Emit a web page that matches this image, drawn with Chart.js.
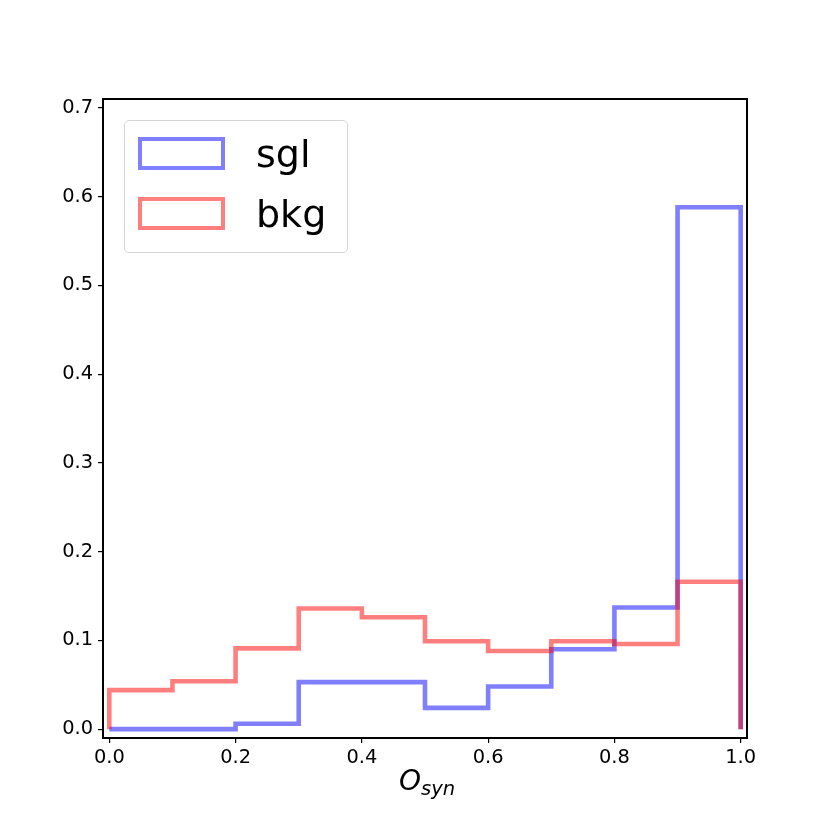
<!DOCTYPE html>
<html>
<head>
<meta charset="utf-8">
<script src="https://cdn.jsdelivr.net/npm/chart.js@4/dist/chart.umd.min.js"></script>
<style>
  html, body { margin: 0; padding: 0; background: #fff; }
  #wrap { position: relative; width: 830px; height: 830px; }
  canvas { position: absolute; left: 0; top: 0; }
  .ov { position: absolute; font-family: "DejaVu Sans", sans-serif; color: #000; white-space: nowrap; }
</style>
</head>
<body>
<div id="wrap">
  <canvas id="c" width="830" height="830"></canvas>
</div>
<script>
// ---- data ----
const binEdges = [0.0, 0.1, 0.2, 0.3, 0.4, 0.5, 0.6, 0.7, 0.8, 0.9, 1.0];
const sglValues = [0.000, 0.000, 0.006, 0.053, 0.053, 0.024, 0.048, 0.090, 0.137, 0.588];
const bkgValues = [0.044, 0.054, 0.091, 0.136, 0.126, 0.099, 0.088, 0.099, 0.096, 0.166];
const seriesLabels = ['sgl', 'bkg'];
const xTicks = [0.0, 0.2, 0.4, 0.6, 0.8, 1.0];
const yTicks = [0.0, 0.1, 0.2, 0.3, 0.4, 0.5, 0.6, 0.7];
const xLabelMain = 'O';
const xLabelSub = 'syn';

// closed step outline (like matplotlib histtype='step')
function stepPoints(edges, vals) {
  const pts = [{x: edges[0], y: 0}];
  for (let i = 0; i < vals.length; i++) pts.push({x: edges[i], y: vals[i]});
  pts.push({x: edges[edges.length - 1], y: 0});
  return pts;
}

const colors = ['rgba(0,0,255,0.5)', 'rgba(255,0,0,0.5)'];

const framePlugin = {
  id: 'frame',
  afterDatasetsDraw(chart) {
    const a = chart.chartArea, ctx = chart.ctx;
    ctx.save();
    ctx.strokeStyle = '#000';
    ctx.lineWidth = 2;
    ctx.strokeRect(a.left, a.top, a.right - a.left, a.bottom - a.top);
    ctx.restore();
  }
};

const tickFont = {family: 'DejaVu Sans', size: 19.4};

const chart = new Chart(document.getElementById('c'), {
  type: 'line',
  data: {
    datasets: [
      {label: seriesLabels[0], data: stepPoints(binEdges, sglValues), borderColor: colors[0], order: 2},
      {label: seriesLabels[1], data: stepPoints(binEdges, bkgValues), borderColor: colors[1], order: 1}
    ].map(d => Object.assign(d, {
      stepped: 'before', fill: false, pointRadius: 0, borderWidth: 4.6,
      borderJoinStyle: 'miter', borderCapStyle: 'butt', tension: 0
    }))
  },
  options: {
    responsive: false,
    animation: false,
    devicePixelRatio: 1,
    layout: {padding: {left: 0, top: 99, right: 83, bottom: 0}},
    plugins: {legend: {display: false}, tooltip: {enabled: false}},
    scales: {
      x: {
        type: 'linear', min: -0.01, max: 1.01,
        afterBuildTicks: s => { s.ticks = xTicks.map(v => ({value: v})); },
        afterFit: s => { s.height = 92; },
        grid: {drawOnChartArea: false, tickLength: 5, color: '#000', lineWidth: 1.2},
        border: {display: false},
        ticks: {font: tickFont, color: '#000', padding: 3, maxRotation: 0,
                callback: v => Number(v).toFixed(1)}
      },
      y: {
        type: 'linear', min: -0.01, max: 0.71,
        afterBuildTicks: s => { s.ticks = yTicks.map(v => ({value: v})); },
        afterFit: s => { s.width = 103; },
        grid: {drawOnChartArea: false, tickLength: 5, color: '#000', lineWidth: 1.2},
        border: {display: false},
        ticks: {font: tickFont, color: '#000', padding: 5,
                callback: v => Number(v).toFixed(1)}
      }
    }
  },
  plugins: [framePlugin]
});

// ---- overlays: legend and x-axis label (real text) ----
const wrap = document.getElementById('wrap');
function el(css, html) {
  const d = document.createElement('div');
  d.className = 'ov';
  d.style.cssText = css;
  if (html !== undefined) d.innerHTML = html;
  wrap.appendChild(d);
  return d;
}
el('left:124px;top:120px;width:222px;height:131px;border:1px solid #d5d5d5;border-radius:5px;background:rgba(255,255,255,0.8);');
chart.data.datasets.forEach((ds, i) => {
  const top = 137 + i * 60;
  el(`left:138px;top:${top}px;width:87px;height:33px;box-sizing:border-box;border:4.5px solid ${ds.borderColor};`);
  el(`left:256px;top:${top - 2}px;font-size:38px;line-height:38px;`, ds.label);
});
el('left:399px;top:767px;font-size:28px;line-height:28px;',
   `<span style="font-style:italic">${xLabelMain}</span><span style="font-style:italic;font-size:19.5px;position:relative;top:5px;">${xLabelSub}</span>`);
</script>
</body>
</html>
